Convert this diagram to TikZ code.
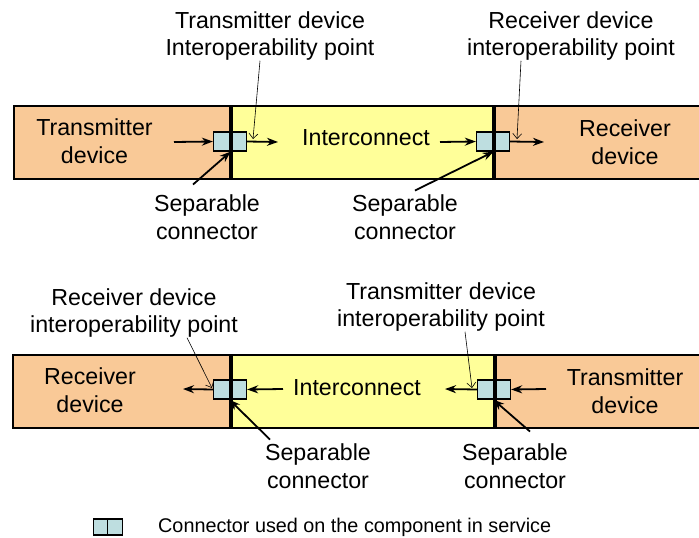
\documentclass[tikz,border=0pt]{standalone}
\usepackage{fontspec}
\setmainfont{Liberation Sans}
\usetikzlibrary{arrows.meta}
\definecolor{devfill}{HTML}{F9C997}
\definecolor{icfill}{HTML}{FFFF99}
\definecolor{confill}{HTML}{BEDEE0}
\tikzset{
  blk/.style={draw,line width=2pt,minimum height=73pt,inner sep=0pt},
  half/.style={draw,fill=confill,line width=1.3pt,minimum width=16.5pt,minimum height=19pt,inner sep=0pt},
  txt/.style={align=center,inner sep=0pt,font=\fontsize{23.2}{27.5}\selectfont},
  sig/.style={-{Stealth[length=11pt,width=8pt]},line width=1.8pt},
  lead/.style={-{Straight Barb[length=5pt,width=9pt]},line width=0.6pt},
  divider/.style={line width=3pt}
}
\begin{document}
\begin{tikzpicture}[x=1pt,y=-1pt]
\useasboundingbox (0,0) rectangle (699,538);
% upper chain: transmitter -> interconnect -> receiver
\node[blk,fill=devfill,minimum width=216pt] (txA) at (122,142.5) {};
\node[blk,fill=icfill,minimum width=263pt] (icA) at (361.5,142.5) {};
\node[blk,fill=devfill,minimum width=209pt] (rxA) at (597.5,142.5) {};
\node[half] (cA1) at (221.75,141.5) {};
\node[half] (cA2) at (238.25,141.5) {};
\node[half] (cB1) at (484.75,141.5) {};
\node[half] (cB2) at (501.25,141.5) {};
\draw[divider] (txA.north east) -- (txA.south east);
\draw[divider] (icA.north east) -- (icA.south east);
\node[txt] (txtA) at (94.5,141) {Transmitter\\device};
\node[txt] (ictA) at (366,138) {Interconnect};
\node[txt] (rxtA) at (625,142) {Receiver\\device};
\coordinate (inA) at (174,142);
\coordinate (outA) at (278,142);
\coordinate (inB) at (440,142);
\coordinate (outB) at (544,142);
\draw[sig] (inA) -- (cA1.west);
\draw[sig] (cA2.east) -- (outA);
\draw[sig] (inB) -- (cB1.west);
\draw[sig] (cB2.east) -- (outB);
\node[txt] (tipA) at (270,36) {Transmitter device\\Interoperability point};
\node[txt] (tipB) at (571,36) {Receiver device\\interoperability point};
\coordinate (ipA) at (253,139);
\coordinate (ipB) at (517,139);
\draw[lead] ([xshift=-10pt]tipA.south) -- (ipA);
\draw[lead] ([xshift=-50pt]tipB.south) -- (ipB);
\node[txt] (sepA) at (207,217) {Separable\\connector};
\node[txt] (sepB) at (405,217) {Separable\\connector};
\draw[sig] ([shift={(-14pt,10pt)}]sepA.north) -- (cA1.south east);
\draw[sig] ([shift={(10pt,4pt)}]sepB.north) -- (cB1.south east);
% lower chain: receiver <- interconnect <- transmitter
\node[blk,fill=devfill,minimum width=217pt] (rxB) at (121.5,391.5) {};
\node[blk,fill=icfill,minimum width=264pt] (icB) at (362,391.5) {};
\node[blk,fill=devfill,minimum width=208pt] (txB) at (598,391.5) {};
\node[half] (cC1) at (221.75,389.5) {};
\node[half] (cC2) at (238.25,389.5) {};
\node[half] (cD1) at (485.75,389.5) {};
\node[half] (cD2) at (502.25,389.5) {};
\draw[divider] (rxB.north east) -- (rxB.south east);
\draw[divider] (icB.north east) -- (icB.south east);
\node[txt] (rxtB) at (90,390) {Receiver\\device};
\node[txt] (ictB) at (357,388) {Interconnect};
\node[txt] (txtB) at (625,391) {Transmitter\\device};
\coordinate (outC) at (183,389);
\coordinate (inC) at (283,389);
\coordinate (outD) at (445,389);
\coordinate (inD) at (546,389);
\draw[sig] (cC1.west) -- (outC);
\draw[sig] (inC) -- (cC2.east);
\draw[sig] (cD1.west) -- (outD);
\draw[sig] (inD) -- (cD2.east);
\node[txt] (tipC) at (134,313) {Receiver device\\interoperability point};
\node[txt] (tipD) at (441,307) {Transmitter device\\interoperability point};
\coordinate (ipC) at (212,388);
\coordinate (ipD) at (472,388);
\draw[lead] ([xshift=53pt]tipC.south) -- (ipC);
\draw[lead] ([xshift=24pt]tipD.south) -- (ipD);
\node[txt] (sepC) at (318,466) {Separable\\connector};
\node[txt] (sepD) at (515,466) {Separable\\connector};
\draw[sig] ([shift={(-48pt,4pt)}]sepC.north) -- (cC2.south west);
\draw[sig] ([shift={(15pt,12pt)}]sepD.north) -- (cD2.south west);
% legend
\node[half,minimum width=14.5pt,minimum height=16pt] (lg1) at (100.5,527) {};
\node[half,minimum width=14.5pt,minimum height=16pt] (lg2) at (115,527) {};
\node[txt,anchor=west,font=\fontsize{19.8}{24}\selectfont] (lgt) at (158,527) {Connector used on the component in service};
\end{tikzpicture}
\end{document}
